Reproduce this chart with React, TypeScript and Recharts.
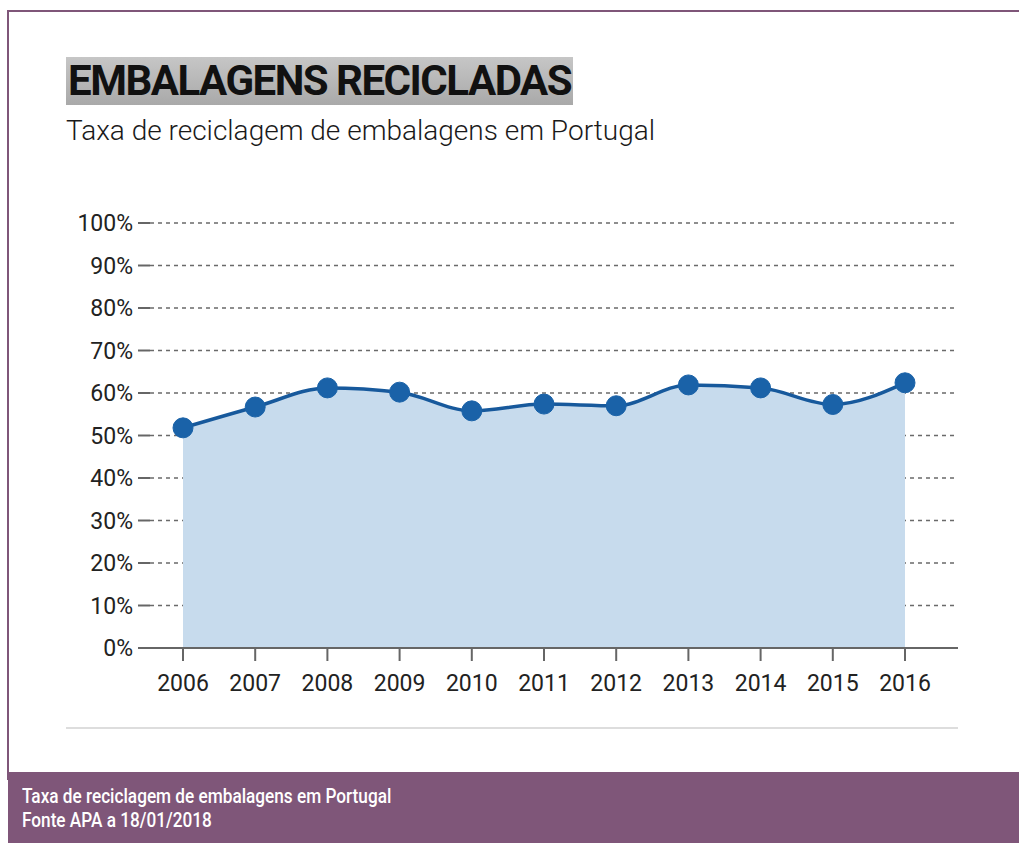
import React from 'react';
import { AreaChart, Area, XAxis, YAxis, CartesianGrid } from 'recharts';

const years = ['2006', '2007', '2008', '2009', '2010', '2011', '2012', '2013', '2014', '2015', '2016'];
const rates = [51.8, 56.7, 61.2, 60.2, 55.8, 57.4, 57.0, 61.9, 61.2, 57.3, 62.4];
const yTicks = [0, 10, 20, 30, 40, 50, 60, 70, 80, 90, 100];

const data = years.map((year, i) => ({ year, rate: rates[i] }));

const PURPLE = '#7f5679';

export default function App() {
  return (
    <div
      style={{
        position: 'absolute',
        left: 0,
        top: 0,
        width: 1019,
        height: 843,
        background: '#fff',
        overflow: 'hidden',
        fontFamily: 'Roboto, sans-serif',
      }}
    >
      {/* frame */}
      <div style={{ position: 'absolute', left: 7, top: 10, width: 1012, height: 2, background: PURPLE }} />
      <div style={{ position: 'absolute', left: 7, top: 10, width: 2, height: 770, background: PURPLE }} />

      <div
        style={{
          position: 'absolute',
          left: 66,
          top: 57,
          height: 48,
          padding: '0 2px',
          background: 'linear-gradient(#c6c6c6, #a9a9a9)',
          color: '#111',
          fontWeight: 700,
          fontSize: 42,
          lineHeight: '48px',
          letterSpacing: -1.5,
          whiteSpace: 'nowrap',
        }}
      >
        EMBALAGENS RECICLADAS
      </div>
      <div
        style={{
          position: 'absolute',
          left: 66,
          top: 114,
          fontWeight: 300,
          fontSize: 28,
          color: '#1a1a1a',
          whiteSpace: 'nowrap',
        }}
      >
        Taxa de reciclagem de embalagens em Portugal
      </div>

      <div style={{ position: 'absolute', left: 0, top: 0 }}>
        <AreaChart
          width={1019}
          height={843}
          data={data}
          margin={{ top: 223, right: 61, bottom: 155, left: 70 }}
        >
          <CartesianGrid vertical={false} stroke="#6a6a6a" strokeDasharray="4 4" strokeWidth={1.5} />
          <XAxis
            dataKey="year"
            padding={{ left: 33, right: 53 }}
            stroke="#666"
            strokeWidth={2}
            tickSize={13}
            tickMargin={14}
            height={40}
            tick={{ fill: '#222', fontSize: 23, fontFamily: 'Roboto', fontWeight: 400 }}
          />
          <YAxis
            domain={[0, 100]}
            ticks={yTicks}
            width={80}
            axisLine={false}
            tickSize={12}
            tickMargin={5}
            tickLine={{ stroke: '#666', strokeWidth: 2 }}
            tickFormatter={(v) => `${v}%`}
            tick={{ fill: '#222', fontSize: 23, fontFamily: 'Roboto', fontWeight: 400 }}
          />
          <Area
            type="monotone"
            dataKey="rate"
            stroke="#17599c"
            strokeWidth={3.5}
            fill="#c7dbed"
            fillOpacity={1}
            dot={{ r: 10, fill: '#1a62a8', stroke: '#1a62a8', strokeWidth: 1 }}
            activeDot={false}
            isAnimationActive={false}
          />
        </AreaChart>
      </div>

      <div style={{ position: 'absolute', left: 66, top: 727, width: 892, height: 2, background: '#ddd' }} />

      <div
        style={{
          position: 'absolute',
          left: 8,
          top: 772,
          width: 1011,
          height: 71,
          background: PURPLE,
          color: '#fff',
        }}
      >
        <div
          style={{
            position: 'absolute',
            left: 14,
            top: 12,
            fontFamily: 'Roboto, sans-serif',
            fontWeight: 500,
            fontSize: 20,
            lineHeight: '24px',
            whiteSpace: 'nowrap',
            transform: 'scaleX(0.86)',
            transformOrigin: 'left top',
          }}
        >
          <div>Taxa de reciclagem de embalagens em Portugal</div>
          <div>Fonte APA a 18/01/2018</div>
        </div>
      </div>
    </div>
  );
}
